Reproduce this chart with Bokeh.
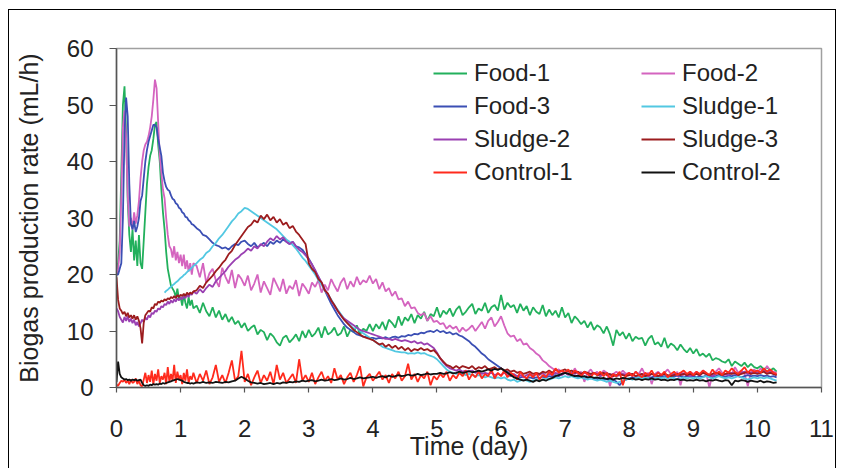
import numpy as np
from bokeh.plotting import figure
from bokeh.models import Range1d, FixedTicker, Legend, LegendItem
from bokeh.embed import file_html
from bokeh.resources import INLINE

# sampling grid (days): finer during the first 1.2 days
fine_days = [round(i * 0.025, 3) for i in range(49)]
coarse_days = [round(1.25 + i * 0.05, 2) for i in range(182)]
days = fine_days + coarse_days

x_ticks = [0, 1, 2, 3, 4, 5, 6, 7, 8, 9, 10, 11]
y_ticks = [0, 10, 20, 30, 40, 50, 60]

NaN = float("nan")

food1 = [
    20, 22, 26, 38, 50, 53.3, 45, 33, 27, 24,
    28, 22.5, 26, 21.5, 27, 22, 21, 26, 31, 36,
    39, 41, 42, 44, 46.5, 47, 43, 40, 35, 31,
    28, 24, 21, 19.5, 18, 17.5, 17, 16, 17.5, 15.5,
    16, 14.5, 16.5, 15, 14, 16, 14.5, 15.5, 14,
    14.5, 13.2, 15.0, 13.5, 12.6, 14.2, 12.4, 13.6, 12.0, 13.0, 11.6, 12.5, 11.2, 11.8, 10.6,
    11.4, 10.0, 10.6, 11.0, 9.4, 10.2, 9.8, 8.4, 9.6, 9.0, 8.0, 7.4, 8.8, 9.2, 8.0, 8.6, 9.4, 8.2, 10.0, 8.8,
    10.2, 9.0, 9.6, 10.6, 8.8, 10.8, 9.4, 9.8, 10.6, 9.2, 9.6, 10.8, 9.0, 10.2, 9.8, 11.0, 9.4, 10.4, 10.0, 11.2,
    10.0, 11.2, 10.4, 11.6, 10.2, 12.0, 11.4, 10.6, 12.6, 11.0, 12.4, 11.8, 13.0, 11.4, 12.8, 12.2, 13.4, 11.8, 13.0, 12.6,
    14.2, 12.4, 13.6, 13.0, 14.0, 12.6, 13.8, 14.4, 12.8, 13.4, 14.2, 14.8, 13.0, 14.0, 13.6, 15.0, 13.2, 14.2, 14.6, 13.6,
    16.4, 13.8, 15.0, 14.2, 14.6, 13.2, 14.8, 13.6, 14.4, 12.8, 14.2, 13.4, 13.0, 14.6, 12.6, 13.8, 12.8, 13.6, 12.4, 14.2,
    12.4, 13.2, 11.4, 12.6, 12.0, 11.2, 11.8, 10.6, 11.6, 10.2, 11.0, 10.6, 9.6, 10.8, 9.4, 7.4, 10.2, 9.2, 9.8, 8.6,
    9.6, 8.2, 9.0, 8.6, 8.8, 7.4, 8.6, 9.2, 7.6, 8.0, 7.2, 8.8, 7.0, 7.8, 7.4, 6.6, 7.6, 6.8, 6.2, 7.0,
    6.0, 6.8, 5.6, 6.0, 5.4, 6.0, 4.8, 5.2, 5.0, 4.6, 4.4, 5.0, 3.8, 4.6, 4.2, 3.8, 4.4, 3.6, 4.2, 3.6,
    3.4, 3.8, 3.2, 3.6, 3.0, 3.4, 2.8,
]

food2 = [
    20, 21, 24, 34, 46, 49, 44, 34, 28.5, 30,
    28, 31, 29, 30.5, 33, 37, 40, 42, 43, 43.5,
    44.5, 46, 48, 51, 54.5, 53, 47, 41, 38, 35,
    33.5, 30, 27, 25, 24.5, 23, 25, 22.5, 24, 22,
    23.5, 21.5, 23.5, 21, 22.5, 20.5, 22, 20, 22,
    21.5, 19.5, 22.0, 18.5, 20.2, 21.0, 19.0, 17.8, 21.2, 19.6, 18.4, 20.8, 17.6, 20.0, 19.2,
    18.0, 19.8, 17.2, 18.4, 20.0, 16.8, 18.8, 17.6, 16.4, 19.4, 18.2, 17.0, 19.2, 16.6, 18.0, 17.4, 19.0, 16.2, 18.4, 17.6,
    16.6, 18.6, 17.8, 19.0, 16.8, 18.2, 17.2, 19.2, 18.0, 17.0, 18.6, 19.4, 17.4, 18.8, 17.8, 19.6, 18.2, 19.0, 18.6, 19.8,
    18.4, 19.2, 17.4, 18.6, 17.0, 17.6, 16.2, 17.0, 15.6, 15.8, 14.4, 15.2, 14.0, 14.2, 13.2, 12.8, 13.2, 11.8, 12.6, 11.6,
    11.8, 11.2, 11.4, 10.4, 11.0, 10.4, 10.8, 9.8, 10.6, 10.0, 10.4, 11.0, 10.0, 10.8, 11.6, 10.4, 11.8, 12.4, 10.8, 11.6,
    12.6, 11.0, 9.6, 9.0, 9.2, 8.2, 8.6, 7.6, 7.8, 7.0, 6.6, 6.0, 5.6, 4.8, 4.4, 3.8, 3.4, 3.0, 3.2, 2.8,
    2.6, 3.0, 2.2, 3.4, 2.4, 2.8, 1.0, 2.6, 3.2, 2.4, 2.8, 2.0, 3.0, 2.6, 0.2, 2.4, 2.8, 2.2, 3.0, 2.4,
    2.6, 2.0, 2.8, 2.4, 3.4, 2.2, 2.6, 0.6, 2.4, 2.8, 2.2, 2.6, 3.2, 2.4, 2.0, 2.8, 0.4, 2.6, 2.2, 2.8,
    2.4, 2.8, 2.2, 3.0, 2.6, 0.0, 2.4, 2.8, 3.4, 2.6, 2.2, 2.8, 2.4, 3.6, 2.6, 3.0, 2.4, 0.2, 2.8, 3.2,
    2.6, 3.4, 2.8, 3.8, 3.0, 2.8, 2.6,
]

food3 = [
    20, 20, 21, 22, 30, 45, 51.3, 48, 36, 29,
    28, 29.5, 27.5, 28.5, 30, 33, 34, 37, 40, 42,
    43.5, 44.5, 45.5, 46.5, 46.5, 46, 44, 42.5, 41, 38,
    36.5, 35.5, 35, 34.8, 34, 33.4, 33.2, 32.6, 32.4, 31.8,
    31.6, 31.0, 30.8, 30.2, 30.1, 29.6, 29.4, 28.9, 28.8,
    28.2, 27.8, 27.0, 26.8, 26.2, 25.6, 25.2, 25.0, 24.6, 24.8, 24.4, 25.0, 25.4, 25.2, 25.8,
    26.0, 25.4, 25.0, 25.6, 24.8, 25.2, 25.6, 25.0, 25.8, 25.4, 26.0, 25.6, 26.2, 25.8, 25.4, 25.8, 25.0, 24.8, 24.4, 23.6,
    22.8, 21.8, 20.6, 19.6, 18.4, 17.2, 16.0, 14.8, 13.8, 12.8, 12.0, 11.2, 10.6, 10.2, 9.8, 9.4, 9.2, 9.0, 8.9, 8.8,
    8.8, 8.6, 8.8, 8.7, 8.9, 8.6, 8.9, 9.0, 8.8, 9.1, 9.0, 9.3, 9.2, 9.5, 9.4, 9.7, 9.6, 9.9, 10.0, 9.8,
    10.2, 9.8, 10.0, 9.6, 9.8, 9.4, 9.6, 9.2, 9.0, 8.6, 8.2, 7.6, 7.2, 6.6, 6.0, 5.6, 5.0, 4.6, 4.2, 3.8,
    3.4, 3.0, 2.8, 2.4, 2.2, 2.0, 1.8, 1.9, 1.7, 1.8, 1.6, 1.8, 1.7, 1.9, 1.8, 2.0, 1.9, 2.2, 2.0, 2.4,
    2.6, 2.4, 2.2, 2.0, 1.8, 2.0, 1.6, 1.8, 1.6, 1.7, 1.5, 1.6, 1.4, 1.5, 1.2, 1.4, 1.0, 0.4, 1.2, 1.4,
    1.6, 1.8, 1.6, 1.8, 2.0, 1.8, 1.6, 1.8, 2.0, 1.8, 1.9, 2.0, 1.8, 2.0, 1.9, 2.1, 2.0, 1.8, 2.0, 1.9,
    2.0, 1.8, 2.0, 1.9, 2.1, 2.0, 1.8, 2.0, 2.2, 2.0, 1.9, 2.1, 2.0, 2.2, 2.0, 1.8, 2.0, 2.2, 2.0, 2.1,
    2.0, 2.2, 2.0, 2.1, 1.9, 2.0, 1.8,
]

sludge1 = [NaN] * 30 + [
    16.8, 17.1, 17.3, 17.6, 17.8, 18.1, 18.3, 18.6, 18.8, 19.1,
    19.4, 19.6, 19.9, 20.1, 20.4, 20.7, 20.9, 21.2, 21.5,
    22.0, 22.6, 23.0, 23.8, 24.2, 25.0, 25.6, 26.4, 27.0, 27.8, 28.6, 29.4, 30.0, 30.8, 31.2,
    31.8, 31.6, 31.2, 30.8, 30.4, 30.0, 29.6, 29.2, 28.8, 28.4, 28.0, 27.4, 26.8, 26.2, 25.8, 25.2, 24.6, 23.8, 23.0, 22.4,
    21.6, 20.8, 20.0, 19.0, 18.2, 17.2, 16.4, 15.6, 14.6, 13.8, 13.0, 12.2, 11.6, 11.0, 10.4, 10.6, 10.0, 9.6, 9.2, 8.8,
    8.4, 8.0, 7.6, 7.2, 7.0, 6.8, 6.6, 6.4, 6.3, 6.2, 6.2, 6.0, 6.1, 6.0, 6.2, 6.0, 6.1, 5.8, 5.6, 5.4,
    5.0, 4.4, 3.8, 3.2, 2.8, 2.6, 2.4, 2.6, 2.4, 2.2, 2.4, 2.2, 2.0, 2.2, 2.0, 1.8, 2.0, 1.8, 1.6, 1.8,
    1.6, 1.8, 1.4, 1.2, 1.4, 1.0, 1.2, 1.4, 1.2, 1.0, 1.2, 1.4, 1.2, 1.4, 1.6, 1.4, 1.6, 1.8, 1.6, 1.8,
    2.0, 1.8, 2.0, 1.8, 1.6, 1.8, 1.6, 1.4, 1.6, 1.4, 1.2, 1.4, 1.2, 1.0, 1.2, 1.0, 0.8, 1.0, 1.2, 1.4,
    1.6, 1.4, 1.6, 1.8, 1.6, 1.8, 1.6, 1.4, 1.6, 1.8, 1.6, 1.8, 1.6, 1.8, 1.6, 1.4, 1.6, 1.8, 1.6, 1.8,
    1.6, 1.8, 1.6, 1.8, 2.0, 1.8, 1.6, 1.8, 2.0, 1.8, 1.6, 1.8, 1.6, 1.8, 2.0, 1.8, 1.6, 1.4, 1.6, 1.8,
    1.6, 1.8, 1.6, 1.8, 1.6, 1.4, 1.2,
]

sludge2 = [
    14, 13.5, 12.5, 12.0, 11.5, 12.5, 11.8, 12.6, 11.6, 12.2,
    11.4, 12.0, 11.0, 11.6, 10.8, 11.4, 12.0, 11.6, 12.4, 12.0,
    12.8, 12.4, 13.2, 13.0, 13.6, 13.4, 14.0, 13.8, 14.4, 14.2,
    14.8, 14.6, 15.2, 14.8, 15.4, 15.0, 15.6, 15.2, 15.8, 15.4,
    16.0, 15.6, 16.2, 15.8, 16.4, 16.0, 16.6, 16.4, 17.0,
    16.6, 17.4, 16.8, 17.6, 18.2, 17.8, 18.8, 19.4, 20.0, 20.6, 21.4, 22.0, 22.6, 23.0, 23.6,
    24.0, 24.6, 24.2, 25.0, 24.6, 25.4, 25.0, 25.8, 26.4, 26.0, 26.8, 26.2, 26.6, 25.8, 25.4, 25.8, 25.0, 24.4, 24.0, 23.4,
    22.6, 21.8, 20.8, 19.6, 18.6, 17.4, 16.4, 15.4, 14.4, 13.6, 12.8, 12.2, 11.8, 11.4, 11.0, 10.6, 10.2, 10.0, 9.8, 9.6,
    9.4, 9.2, 9.0, 8.8, 8.6, 8.6, 8.4, 8.6, 8.4, 8.2, 8.4, 8.2, 8.0, 8.2, 7.8, 8.0, 7.6, 7.8, 7.4, 7.0,
    6.2, 5.2, 4.4, 3.8, 3.4, 3.2, 3.0, 3.2, 2.8, 3.0, 2.8, 3.0, 2.6, 2.8, 2.4, 2.6, 2.4, 2.6, 2.2, 2.4,
    2.2, 2.6, 2.2, 2.0, 2.4, 2.0, 2.2, 1.8, 2.2, 2.4, 2.0, 2.4, 2.2, 2.6, 2.0, 2.4, 2.2, 2.6, 2.4, 2.2,
    2.6, 2.2, 2.6, 2.4, 2.8, 2.2, 2.6, 2.4, 2.2, 2.6, 2.4, 2.0, 2.4, 2.6, 2.2, 2.4, 2.0, 2.2, 2.4, 2.2,
    2.2, 2.4, 2.0, 2.2, 2.4, 2.2, 2.0, 2.4, 2.2, 2.6, 2.2, 2.4, 2.0, 2.2, 2.4, 2.2, 2.6, 2.4, 2.2, 2.0,
    2.2, 2.4, 2.2, 2.6, 2.4, 2.2, 2.0, 2.4, 2.6, 2.2, 2.4, 2.2, 2.6, 2.4, 2.2, 2.6, 2.8, 2.4, 2.6, 2.8,
    2.6, 2.8, 3.0, 2.6, 2.8, 2.4, 2.2,
]

sludge3 = [
    19.5, 15.5, 14.0, 13.6, 13.0, 13.4, 12.6, 13.2, 12.4, 12.8,
    12.2, 12.8, 12.0, 12.6, 11.8, 10.5, 7.8, 11.5, 12.8, 13.2,
    13.6, 13.4, 14.2, 14.0, 14.8, 14.6, 15.2, 15.0, 15.4, 15.2,
    15.6, 15.4, 15.8, 15.6, 16.0, 15.8, 16.2, 15.8, 16.4, 16.0,
    16.4, 16.2, 16.6, 16.2, 16.8, 16.4, 16.8, 16.6, 17.0,
    17.2, 18.0, 17.6, 18.6, 19.2, 19.8, 20.6, 21.2, 22.0, 22.6, 23.6, 24.2, 25.2, 26.0, 26.8,
    27.6, 28.4, 28.8, 29.6, 29.2, 30.4, 29.8, 30.6, 29.6, 30.2, 29.2, 29.8, 28.8, 29.2, 28.2, 28.6, 27.6, 27.0, 26.2, 25.4,
    22.0, 21.0, 20.4, 19.2, 18.6, 17.2, 16.6, 15.4, 14.6, 13.6, 12.8, 12.0, 11.4, 10.8, 10.2, 9.8, 9.4, 9.0, 8.8, 8.6,
    8.4, 8.0, 7.6, 7.8, 7.2, 7.6, 7.0, 7.4, 6.8, 7.2, 6.6, 7.0, 6.4, 6.8, 6.6, 7.0, 6.6, 6.8, 6.4, 6.6,
    6.0, 5.2, 4.6, 4.0, 3.8, 3.4, 3.8, 3.4, 3.8, 3.6, 3.4, 3.8, 3.2, 3.6, 3.4, 3.8, 3.2, 3.4, 3.6, 3.2,
    3.4, 3.0, 3.2, 2.8, 3.0, 2.6, 2.8, 2.4, 2.6, 2.8, 2.4, 2.6, 2.4, 2.8, 2.6, 3.0, 2.6, 3.2, 2.8, 3.0,
    3.2, 2.8, 3.0, 2.6, 2.8, 2.4, 2.8, 2.6, 2.4, 2.6, 2.2, 2.4, 2.6, 2.2, 2.4, 2.0, 2.2, 2.4, 2.2, 2.0,
    2.2, 2.4, 2.0, 2.2, 2.4, 2.0, 2.2, 2.4, 2.2, 2.0, 2.2, 2.4, 2.2, 2.0, 2.2, 2.4, 2.2, 2.4, 2.2, 2.4,
    2.2, 2.4, 2.2, 2.6, 2.4, 2.2, 2.4, 2.6, 2.4, 2.2, 2.4, 2.6, 2.4, 2.6, 2.2, 2.4, 2.6, 2.8, 2.4, 2.6,
    2.4, 2.6, 2.8, 2.4, 2.6, 2.4, 2.2,
]

control1 = [
    0.5, 0.3, 0.8, 1.2, 1.0, 1.4, 0.8, 1.2, 0.6, 1.4,
    0.8, 1.0, 1.6, 0.6, 1.2, 0.4, 0.2, 1.4, 2.6, 0.8,
    2.2, 1.0, 3.0, 0.6, 2.4, 1.2, 3.2, 0.8, 2.0, 1.4,
    2.6, 0.6, 3.6, 1.0, 2.4, 1.2, 4.0, 0.8, 2.8, 1.4,
    2.2, 0.6, 2.6, 1.2, 3.2, 0.8, 2.0, 1.4, 2.6,
    0.8, 2.4, 1.2, 3.0, 0.6, 1.8, 4.0, 1.0, 2.2, 0.8, 2.6, 4.8, 1.2, 2.0, 6.5,
    1.0, 2.4, 0.4, 1.8, 3.0, 0.8, 2.2, 1.2, 2.8, 0.6, 4.0, 1.4, 2.6, 0.8, 1.6, 2.4, 0.8, 5.0, 1.2, 2.2,
    1.0, 2.6, 0.6, 1.8, 2.8, 1.2, 2.0, 0.8, 3.4, 1.4, 2.2, 0.6, 1.8, 2.6, 1.0, 2.2, 3.8, 0.2, 1.8, 2.4,
    1.2, 2.0, 2.8, 1.4, 2.2, 0.8, 2.4, 1.6, 2.8, 1.2, 2.0, 4.2, 1.4, 2.4, 1.0, 2.2, 1.6, 2.8, 0.4, 2.0,
    1.4, 2.4, 1.8, 2.8, 1.2, 2.2, 1.6, 2.6, 2.0, 3.0, 1.4, 2.4, 1.8, 2.8, 1.6, 2.4, 2.0, 3.2, 1.6, 2.6,
    2.0, 3.0, 1.8, 2.6, 2.2, 1.4, 2.8, 2.0, 1.6, 2.4, 1.8, 2.6, 1.4, 2.2, 1.8, 2.8, 2.2, 3.4, 2.6, 3.0,
    2.6, 3.2, 2.2, 3.0, 2.6, 2.0, 2.8, 2.4, 1.8, 2.6, 2.2, 2.8, 2.0, 2.6, 1.6, 2.4, 2.0, 2.8, 0.4, 2.2,
    2.6, 2.0, 2.8, 2.2, 1.8, 2.6, 2.2, 3.0, 2.0, 2.6, 2.2, 2.8, 1.8, 2.4, 2.8, 2.2, 2.6, 3.0, 2.4, 2.8,
    2.2, 2.8, 2.4, 3.0, 2.6, 2.2, 3.2, 2.4, 2.8, 2.2, 3.0, 2.6, 3.4, 2.8, 2.4, 3.0, 3.6, 2.6, 3.2, 2.8,
    3.0, 2.6, 3.4, 2.8, 3.2, 2.6, 2.4,
]

control2 = [
    1.0, 4.6, 2.4, 1.8, 1.6, 1.4, 1.5, 1.3, 1.4, 1.2,
    1.4, 1.3, 1.4, 1.2, 1.3, 1.4, 0.8, 0.4, 0.3, 0.4,
    0.3, 0.5, 0.4, 0.6, 0.5, 0.6, 0.5, 0.7, 0.6, 0.8,
    0.7, 0.8, 0.9, 1.0, 1.1, 1.2, 1.3, 1.4, 1.5, 1.4,
    1.3, 1.2, 1.0, 0.9, 0.8, 0.8, 0.7, 0.8, 0.7,
    0.9, 0.8, 1.0, 0.8, 0.9, 0.8, 1.0, 0.9, 0.8, 1.0, 0.9, 1.1, 1.2, 1.6, 1.9,
    1.6, 1.2, 0.9, 0.8, 0.7, 0.8, 0.6, 0.7, 0.8, 0.6, 0.8, 0.7, 0.9, 0.8, 1.0, 0.9, 1.1, 1.0, 1.2, 1.1,
    1.2, 1.3, 1.1, 1.2, 1.4, 1.2, 1.3, 1.5, 1.3, 1.4, 1.6, 1.4, 1.5, 1.7, 1.5, 1.6, 1.8, 1.6, 1.7, 1.8,
    1.9, 1.7, 1.9, 2.0, 1.8, 2.1, 1.9, 2.0, 2.2, 2.0, 2.1, 2.3, 2.1, 2.2, 2.4, 2.2, 2.3, 2.5, 2.3, 2.4,
    2.4, 2.6, 2.4, 2.5, 2.7, 2.5, 2.6, 2.8, 2.6, 2.7, 2.9, 2.7, 2.8, 3.0, 2.8, 3.0, 3.2, 3.0, 3.3, 3.1,
    3.4, 3.0, 2.6, 2.2, 1.8, 1.6, 1.4, 1.2, 1.4, 1.2, 1.0, 1.3, 1.1, 1.4, 1.2, 1.5, 1.7, 2.0, 2.2, 2.4,
    2.6, 2.4, 2.2, 2.0, 2.1, 1.9, 2.0, 1.8, 1.9, 1.7, 1.8, 1.6, 1.7, 1.5, 1.6, 1.4, 1.6, 1.5, 1.7, 1.6,
    1.5, 1.6, 1.4, 1.5, 1.3, 1.5, 1.4, 1.6, 1.4, 1.5, 1.3, 1.4, 1.2, 1.4, 1.3, 1.5, 1.3, 1.4, 1.2, 1.3,
    1.2, 1.4, 1.2, 1.3, 1.1, 1.3, 1.2, 1.4, 1.2, 1.1, 1.3, 1.2, 0.4, 1.2, 1.1, 1.3, 1.2, 1.0, 1.2, 1.1,
    1.0, 1.2, 0.9, 1.1, 1.0, 0.8, 0.9,
]

names = ["Food-1", "Food-2", "Food-3", "Sludge-1", "Sludge-2", "Sludge-3", "Control-1", "Control-2"]
series = [food1, food2, food3, sludge1, sludge2, sludge3, control1, control2]
colors = ["#22b05c", "#d464bf", "#3b4fb4", "#52c8e2", "#9a40b2", "#9c1c1e", "#ff2a1c", "#111111"]

FONT = "Liberation Sans"

p = figure(width=828, height=459, x_range=Range1d(0, 11), y_range=Range1d(0, 60),
           output_backend="svg", toolbar_location=None,
           min_border_left=107, min_border_right=16, min_border_top=38, min_border_bottom=82)
p.margin = (9, 0, 0, 8)
p.styles = {"border-left": "1.5px solid #000", "border-top": "1.5px solid #000",
            "border-right": "1.5px solid #000"}
p.xgrid.visible = False
p.ygrid.visible = False
p.outline_line_color = "#a0a0a0"
p.outline_line_width = 1.5

renderers = {}
for name, vals, col in zip(names, series, colors):
    r = p.line(np.array(days, dtype=float), np.array(vals, dtype=float),
               line_color=col, line_width=1.8)
    renderers[name] = r

for ax in (p.xaxis[0], p.yaxis[0]):
    ax.axis_line_color = "#555555"
    ax.axis_line_width = 1.5
    ax.major_tick_line_color = "#555555"
    ax.major_tick_line_width = 1.2
    ax.major_tick_in = 0
    ax.minor_tick_line_color = None
    ax.major_label_text_font = FONT
    ax.major_label_text_font_size = "24px"
    ax.major_label_text_color = "#222222"
    ax.axis_label_text_font = FONT
    ax.axis_label_text_font_size = "25px"
    ax.axis_label_text_font_style = "normal"
    ax.axis_label_text_color = "#222222"

p.xaxis.ticker = FixedTicker(ticks=x_ticks)
p.yaxis.ticker = FixedTicker(ticks=y_ticks)
p.xaxis.major_tick_out = 5
p.yaxis.major_tick_out = 7
p.xaxis.major_label_standoff = 27
p.yaxis.major_label_standoff = 16
p.xaxis.axis_label = "Time (day)"
p.yaxis.axis_label = "Biogas production rate (mL/h)"
p.xaxis.axis_label_standoff = -8
p.yaxis.axis_label_standoff = 21

col1 = ["Food-1", "Food-3", "Sludge-2", "Control-1"]
col2 = ["Food-2", "Sludge-1", "Sludge-3", "Control-2"]
for names_col, xoff in ((col1, 317), (col2, 525)):
    leg = Legend(items=[LegendItem(label=n, renderers=[renderers[n]]) for n in names_col],
                 location=(xoff, 201), orientation="vertical")
    leg.border_line_alpha = 0
    leg.background_fill_alpha = 0
    leg.label_text_font = FONT
    leg.label_text_font_size = "24px"
    leg.label_text_color = "#222222"
    leg.glyph_width = 34
    leg.glyph_height = 24
    leg.label_height = 24
    leg.spacing = 5
    leg.padding = 0
    leg.margin = 0
    leg.label_standoff = 7
    p.add_layout(leg, "center")

open("out.html", "w").write(file_html(p, INLINE))
